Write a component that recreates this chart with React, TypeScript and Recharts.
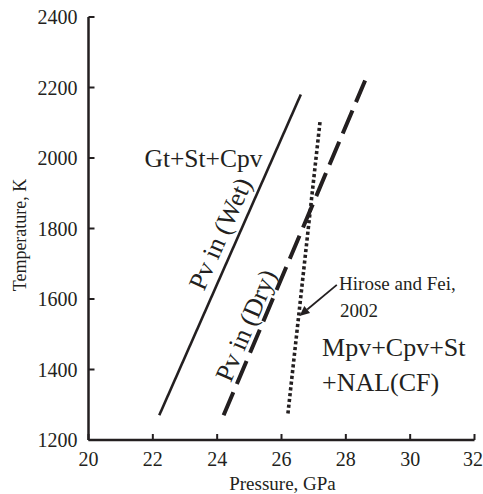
import React from 'react';
import { LineChart, Line, XAxis, YAxis, ReferenceDot, ReferenceLine } from 'recharts';

const xTicks = [20, 22, 24, 26, 28, 30, 32];
const yTicks = [1200, 1400, 1600, 1800, 2000, 2200, 2400];

const wetP = [22.2, 26.6];
const wetT = [1270, 2180];
const dryP = [24.2, 28.6];
const dryT = [1270, 2220];
const hfP = [26.2, 27.2];
const hfT = [1275, 2105];

const arrowP = [27.72, 26.56];
const arrowT = [1640, 1552];

const INK = '#231f20';
const FONT = '"Liberation Serif", "Times New Roman", serif';

const toRows = (p: number[], t: number[]) => p.map((v, i) => ({ p: v, t: t[i] }));
const wetLine = toRows(wetP, wetT);
const dryLine = toRows(dryP, dryT);
const hfLine = toRows(hfP, hfT);

type NoteOpts = { size: number; anchor?: string; angle?: number };

function note(key: string, x: number, y: number, text: string, opts: NoteOpts) {
  return (
    <ReferenceDot
      key={key}
      x={x}
      y={y}
      r={0}
      fill="none"
      stroke="none"
      ifOverflow="visible"
      label={{
        content: (props: any) => {
          const vb = props.viewBox || {};
          const cx = (vb.x || 0) + (vb.width || 0) / 2;
          const cy = (vb.y || 0) + (vb.height || 0) / 2;
          return (
            <text
              x={cx}
              y={cy}
              fill={INK}
              fontFamily={FONT}
              fontSize={opts.size}
              textAnchor={opts.anchor || 'start'}
              dominantBaseline="central"
              transform={opts.angle ? `rotate(${opts.angle} ${cx} ${cy})` : undefined}
            >
              {text}
            </text>
          );
        },
      }}
    />
  );
}

const ArrowShape = (props: any) => {
  const { x1, y1, x2, y2 } = props;
  const dx = x2 - x1;
  const dy = y2 - y1;
  const len = Math.sqrt(dx * dx + dy * dy) || 1;
  const ux = dx / len;
  const uy = dy / len;
  const hl = 10;
  const hw = 4.5;
  const bx = x2 - ux * hl;
  const by = y2 - uy * hl;
  const pts = `${x2},${y2} ${bx - uy * hw},${by + ux * hw} ${bx + uy * hw},${by - ux * hw}`;
  return (
    <g>
      <line x1={x1} y1={y1} x2={bx} y2={by} stroke={INK} strokeWidth={1.8} />
      <polygon points={pts} fill={INK} />
    </g>
  );
};

export default function App() {
  return (
    <div style={{ position: 'absolute', left: 0, top: 0, background: '#fff' }}>
      <LineChart
        width={483}
        height={494}
        margin={{ top: 17, right: 8.5, bottom: 0, left: 0 }}
      >
        <XAxis
          type="number"
          dataKey="p"
          domain={[20, 32]}
          ticks={xTicks}
          allowDataOverflow
          height={54}
          axisLine={{ stroke: INK, strokeWidth: 2.5 }}
          tickLine={{ stroke: INK, strokeWidth: 2 }}
          tickSize={-6}
          tickMargin={18}
          tick={{ fill: INK, fontFamily: FONT, fontSize: 20 }}
          label={{
            content: (props: any) => {
              const vb = props.viewBox || {};
              return (
                <text
                  x={vb.x + vb.width / 2 + 1}
                  y={483}
                  fill={INK}
                  fontFamily={FONT}
                  fontSize={19}
                  textAnchor="middle"
                  dominantBaseline="central"
                >
                  Pressure, GPa
                </text>
              );
            },
          }}
        />
        <YAxis
          type="number"
          dataKey="t"
          domain={[1200, 2400]}
          ticks={yTicks}
          allowDataOverflow
          width={88.5}
          axisLine={{ stroke: INK, strokeWidth: 2.5 }}
          tickLine={{ stroke: INK, strokeWidth: 2 }}
          tickSize={-6}
          tickMargin={17}
          tick={{ fill: INK, fontFamily: FONT, fontSize: 20 }}
          label={{
            content: () => {
              const cx = 20;
              const cy = 235;
              return (
                <text
                  x={cx}
                  y={cy}
                  fill={INK}
                  fontFamily={FONT}
                  fontSize={18}
                  textAnchor="middle"
                  dominantBaseline="central"
                  transform={`rotate(-90 ${cx} ${cy})`}
                >
                  Temperature, K
                </text>
              );
            },
          }}
        />
        <Line
          data={wetLine}
          dataKey="t"
          stroke={INK}
          strokeWidth={2.6}
          dot={false}
          activeDot={false}
          isAnimationActive={false}
        />
        <Line
          data={dryLine}
          dataKey="t"
          stroke={INK}
          strokeWidth={4}
          strokeDasharray="25 9"
          dot={false}
          activeDot={false}
          isAnimationActive={false}
        />
        <Line
          data={hfLine}
          dataKey="t"
          stroke={INK}
          strokeWidth={3.6}
          strokeDasharray="3.2 2.6"
          dot={false}
          activeDot={false}
          isAnimationActive={false}
        />
        <ReferenceLine
          segment={[
            { x: arrowP[0], y: arrowT[0] },
            { x: arrowP[1], y: arrowT[1] },
          ]}
          ifOverflow="visible"
          shape={ArrowShape}
        />
        {note('gt', 21.74, 2000, 'Gt+St+Cpv', { size: 25.5 })}
        {note('wet', 24.1, 1785, 'Pv in (Wet)', { size: 26, anchor: 'middle', angle: -66 })}
        {note('dry', 24.9, 1525, 'Pv in (Dry)', { size: 26, anchor: 'middle', angle: -67 })}
        {note('hf1', 27.79, 1645, 'Hirose and Fei,', { size: 19 })}
        {note('hf2', 27.82, 1566, '2002', { size: 19 })}
        {note('mpv1', 27.26, 1461, 'Mpv+Cpv+St', { size: 26 })}
        {note('mpv2', 27.26, 1362, '+NAL(CF)', { size: 26 })}
      </LineChart>
    </div>
  );
}
